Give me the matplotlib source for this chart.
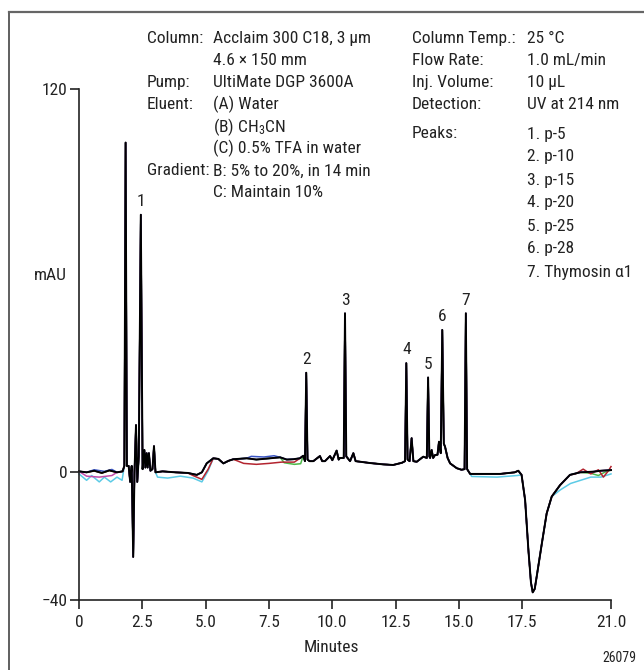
import numpy as np
import matplotlib
matplotlib.use("Agg")
import matplotlib.pyplot as plt
from matplotlib import font_manager as fm
from matplotlib.lines import Line2D
from matplotlib.ticker import FixedLocator

# ---------------- font ----------------
_names = {f.name for f in fm.fontManager.ttflist}
FONT = "DejaVu Sans"
for cand in ["Liberation Sans Narrow", "Roboto Condensed", "Liberation Sans"]:
    if cand in _names:
        FONT = cand
        break
plt.rcParams["font.family"] = [FONT, "DejaVu Sans"]
plt.rcParams["mathtext.fontset"] = "custom"
plt.rcParams["mathtext.rm"] = FONT
plt.rcParams["mathtext.default"] = "rm"

# ---------------- data ----------------
# main (black) trace: time (min), signal (mAU)
main_t = [0.0, 0.3, 0.6, 0.9, 1.2, 1.5, 1.72, 1.79, 1.84, 1.89, 1.96, 2.02, 2.08,
          2.14, 2.19, 2.25, 2.30, 2.36, 2.44, 2.51, 2.58, 2.62, 2.67, 2.71, 2.76,
          2.82, 2.90, 2.96, 3.02, 3.3, 3.8, 4.3, 4.65, 4.85, 5.04, 5.30, 5.50,
          5.70, 5.90, 6.09, 6.62, 7.0, 7.41, 7.94, 8.2, 8.46, 8.72, 8.85, 8.92,
          8.97, 9.02, 9.1, 9.25, 9.51, 9.6, 9.71, 9.91, 10.0, 10.17, 10.25, 10.3,
          10.45, 10.50, 10.55, 10.7, 10.83, 10.92, 11.5, 12.0, 12.4, 12.75, 12.87,
          12.92, 12.97, 13.05, 13.13, 13.2, 13.33, 13.59, 13.73, 13.78, 13.83,
          13.86, 13.92, 13.98, 14.05, 14.15, 14.21, 14.28, 14.34, 14.40, 14.45,
          14.55, 14.65, 14.91, 15.1, 15.22, 15.27, 15.32, 15.44, 15.83, 16.62,
          17.2, 17.34, 17.47, 17.61, 17.74, 17.84, 17.91, 17.99, 18.07, 18.27,
          18.46, 18.66, 18.99, 19.38, 19.78, 20.3, 20.6, 21.0]
main_v = [0.3, 0.0, 0.5, -0.2, 0.6, 0.0, 0.3, 2.0, 103.3, 2.0, 2.0, -3.0, 2.0,
          -26.5, 0.0, 14.8, -3.0, 5.0, 80.7, 1.0, 7.0, 1.5, 6.0, 1.5, 6.0,
          0.5, 1.0, 8.2, 0.0, 0.3, 0.0, -0.2, -0.8, 0.0, 2.8, 4.4, 4.2,
          2.8, 3.6, 4.1, 4.4, 4.0, 4.3, 4.7, 4.0, 4.1, 4.4, 5.2, 3.5,
          31.2, 4.0, 3.5, 3.5, 5.1, 3.5, 3.5, 5.1, 3.8, 6.8, 4.0, 4.5,
          4.5, 49.8, 5.0, 3.5, 6.0, 3.5, 2.9, 2.5, 2.3, 3.0, 3.5,
          34.2, 4.0, 3.5, 10.7, 3.5, 3.3, 4.9, 4.5, 29.7, 5.0,
          4.5, 7.0, 4.5, 5.4, 5.5, 9.6, 6.0, 44.6, 9.0, 8.0,
          4.5, 2.8, 1.3, 0.8, 1.0, 49.8, 1.0, -0.5, -0.5, -0.5,
          0.0, 0.5, -0.8, -8.7, -24.4, -34.5, -37.6, -36.5, -32.5, -22.3,
          -12.9, -7.6, -4.0, -0.8, 0.0, 0.2, 0.5, 0.7]

# replicate traces: baseline sections where they differ from the black trace
cyan_t = [0.0, 0.3, 0.5, 0.8, 1.0, 1.25, 1.5, 1.7,
          3.1, 3.5, 4.0, 4.5, 4.85, 5.1,
          15.5, 16.5, 17.3,
          19.0, 19.4, 19.8, 20.2, 20.6, 21.0]
cyan_v = [-0.5, -2.5, -1.0, -3.0, -1.5, -3.0, -1.5, -2.5,
          -1.5, -1.8, -1.2, -1.8, -3.0, 0.5,
          -1.3, -1.5, -1.0,
          -5.5, -3.5, -2.5, -1.5, -1.5, -0.5]
red_t = [4.5, 4.85, 5.1, 6.5, 7.0, 7.5, 8.0, 8.5, 19.6, 19.9, 20.2, 20.5, 20.7, 20.9, 21.0]
red_v = [-1.0, -2.2, 1.0, 2.8, 2.5, 2.8, 3.2, 3.2, -0.5, 1.0, -0.5, 0.8, -1.5, 0.5, 1.8]
green_t = [8.1, 8.5, 8.75, 20.2, 20.5, 20.8]
green_v = [3.0, 2.5, 2.7, -0.3, -1.0, 0.2]
magenta_t = [0.3, 0.8, 1.3]
magenta_v = [-1.2, -1.5, -1.0]
blue_t = [0.6, 1.0, 1.3, 6.8, 7.3, 7.7]
blue_v = [0.8, 0.3, 0.9, 5.0, 4.8, 5.2]

peak_labels = ["1", "2", "3", "4", "5", "6", "7"]
peak_times = [2.44, 8.97, 10.50, 12.92, 13.78, 14.34, 15.27]
peak_heights = [80.7, 31.2, 49.8, 34.2, 29.7, 44.6, 49.8]

x_ticks = [0, 2.5, 5.0, 7.5, 10.0, 12.5, 15.0, 17.5, 21.0]
x_ticklabels = ["0", "2.5", "5.0", "7.5", "10.0", "12.5", "15.0", "17.5", "21.0"]
y_ticks = [-40, 0, 120]
y_ticklabels = ["\u221240", "0", "120"]

left_keys = ["Column:", "", "Pump:", "Eluent:", "", "", "Gradient:", ""]
left_vals = ["Acclaim 300 C18, 3 µm", "4.6 × 150 mm", "UltiMate DGP 3600A",
             "(A) Water", r"(B) CH$_3$CN", "(C) 0.5% TFA in water",
             "B: 5% to 20%, in 14 min", "C: Maintain 10%"]
right_keys = ["Column Temp.:", "Flow Rate:", "Inj. Volume:", "Detection:"]
right_vals = ["25 °C", "1.0 mL/min", "10 µL", "UV at 214 nm"]
peak_names = ["1. p-5", "2. p-10", "3. p-15", "4. p-20", "5. p-25", "6. p-28",
              "7. Thymosin α1"]


def merged(t_own, v_own, pad=0.05):
    """Black trace points outside the trace's own baseline sections + own points."""
    t_own = np.asarray(t_own)
    mt = np.asarray(main_t)
    keep = np.ones(len(mt), bool)
    breaks = np.where(np.diff(t_own) > 1.0)[0]
    starts = np.r_[0, breaks + 1]
    ends = np.r_[breaks, len(t_own) - 1]
    for s, e in zip(starts, ends):
        keep &= ~((mt >= t_own[s] - pad) & (mt <= t_own[e] + pad))
    t = np.r_[mt[keep], t_own]
    v = np.r_[np.asarray(main_v)[keep], np.asarray(v_own)]
    o = np.argsort(t, kind="stable")
    return t[o], v[o]


# ---------------- figure ----------------
W, H = 644, 670
TXT = "#222222"
FS = 12.5
fig = plt.figure(figsize=(W / 100, H / 100), dpi=100)
ax = fig.add_axes([79 / W, 1 - 600 / H, (611 - 79) / W, (600 - 89.3) / H])
ax.set_xlim(0, 21)
ax.set_ylim(-40, 120)

traces = [(cyan_t, cyan_v, "#5ccbe6"), (green_t, green_v, "#4db848"),
          (magenta_t, magenta_v, "#c04aa8"), (red_t, red_v, "#b3242f"),
          (blue_t, blue_v, "#3a55c4")]
for tt, vv, col in traces:
    t, v = merged(tt, vv)
    ax.plot(t, v, color=col, lw=1.1, solid_joinstyle="round", clip_on=False)
ax.plot(main_t, main_v, color="black", lw=1.4, solid_joinstyle="round", clip_on=False)

for lab, t, h in zip(peak_labels, peak_times, peak_heights):
    ax.annotate(lab, (t, h), xytext=(0, 9.5), textcoords="offset points",
                ha="center", va="center", fontsize=FS, color=TXT)

for s in ["top", "right"]:
    ax.spines[s].set_visible(False)
for s in ["left", "bottom"]:
    ax.spines[s].set_linewidth(1.2)
    ax.spines[s].set_color(TXT)
ax.xaxis.set_major_locator(FixedLocator(x_ticks))
ax.set_xticklabels(x_ticklabels)
ax.yaxis.set_major_locator(FixedLocator(y_ticks))
ax.set_yticklabels(y_ticklabels)
ax.tick_params(axis="both", direction="out", length=6.5, width=1.2, color=TXT,
               labelsize=FS, labelcolor=TXT)
ax.tick_params(axis="x", pad=4)
ax.tick_params(axis="y", pad=2)
ax.patch.set_alpha(0)

fig.text(50 / W, 1 - 276 / H, "mAU", ha="center", va="center", fontsize=FS, color=TXT)
fig.text(331 / W, 1 - 647 / H, "Minutes", ha="center", va="center", fontsize=FS, color=TXT)
fig.text(636 / W, 1 - 658 / H, "26079", ha="right", va="center", fontsize=10, color=TXT)

# info text
y0, dy = 38.3, 22.1
for i, (k, v) in enumerate(zip(left_keys, left_vals)):
    yy = 1 - (y0 + i * dy) / H
    if k:
        fig.text(147 / W, yy, k, ha="left", va="center", fontsize=FS, color=TXT)
    fig.text(213.5 / W, yy, v, ha="left", va="center", fontsize=FS, color=TXT)
for i, (k, v) in enumerate(zip(right_keys, right_vals)):
    yy = 1 - (y0 + i * dy) / H
    fig.text(412 / W, yy, k, ha="left", va="center", fontsize=FS, color=TXT)
    fig.text(527 / W, yy, v, ha="left", va="center", fontsize=FS, color=TXT)
p0, pdy = 134, 23
fig.text(412 / W, 1 - p0 / H, "Peaks:", ha="left", va="center", fontsize=FS, color=TXT)
for i, name in enumerate(peak_names):
    fig.text(527 / W, 1 - (p0 + i * pdy) / H, name, ha="left", va="center",
             fontsize=FS, color=TXT)

# frame lines of the figure
fig.add_artist(Line2D([9.3 / W, 9.3 / W], [0, 1 - 12.3 / H], transform=fig.transFigure,
                      color="#444444", lw=1.2))
fig.add_artist(Line2D([9.3 / W, 1], [1 - 12.3 / H, 1 - 12.3 / H], transform=fig.transFigure,
                      color="#666666", lw=1.6))

fig.savefig("out.png", dpi=100)
